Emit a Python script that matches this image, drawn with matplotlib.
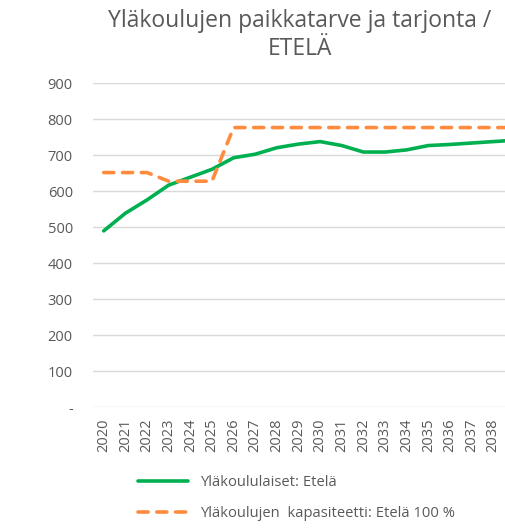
import matplotlib
matplotlib.use("Agg")
import matplotlib.pyplot as plt

# data
years = [str(y) for y in range(2020, 2040)]
students = [490, 539, 576, 617, 639, 661, 693, 703, 721, 731,
            738, 727, 709, 709, 715, 727, 730, 734, 738, 742]
capacity = [652, 652, 652, 628, 628, 628, 777, 777, 777, 777,
            777, 777, 777, 777, 777, 777, 777, 777, 777, 777]
yticks = [0, 100, 200, 300, 400, 500, 600, 700, 800, 900]
ytick_labels = ["-"] + [str(v) for v in yticks[1:]]

GREEN = "#00B050"
ORANGE = "#FF8B3E"
TXT = "#595959"

plt.rcParams["font.family"] = ["Open Sans", "DejaVu Sans"]

fig = plt.figure(figsize=(5.05, 5.28), dpi=100)
# plot area runs past the right edge, as in the cropped original
ax = fig.add_axes([0.184, 0.2286, 0.857, 0.6137])

x = list(range(len(years)))
ax.plot(x, students, color=GREEN, lw=2.6, solid_capstyle="round",
        label="Yläkoululaiset: Etelä", zorder=3)
ax.plot(x, capacity, color=ORANGE, lw=2.6, ls=(0, (2.8, 2.4)),
        dash_capstyle="round", label="Yläkoulujen  kapasiteetti: Etelä 100 %",
        zorder=3)

ax.set_xlim(-0.5, len(years) - 0.5)
ax.set_ylim(0, 900)
ax.set_yticks(yticks)
ax.set_yticklabels(ytick_labels)
ax.set_xticks(x)
ax.set_xticklabels(years, rotation=90)
ax.tick_params(length=0, labelsize=10.5, colors=TXT)
ax.tick_params(axis="y", pad=14.5)
ax.tick_params(axis="x", pad=8)
ax.grid(axis="y", color="#D9D9D9", lw=1)
for s in ax.spines.values():
    s.set_visible(False)

fig.text(0.594, 0.983, "Yläkoulujen paikkatarve ja tarjonta /\nETELÄ",
         ha="center", va="top", fontsize=16.5, color=TXT, linespacing=1.2)

fig.legend(loc="upper left", bbox_to_anchor=(0.273, 0.1), frameon=False,
           fontsize=10.6, handlelength=3.4, labelspacing=1.1, labelcolor=TXT,
           borderaxespad=0, borderpad=0)

fig.savefig("out.png", dpi=100)
